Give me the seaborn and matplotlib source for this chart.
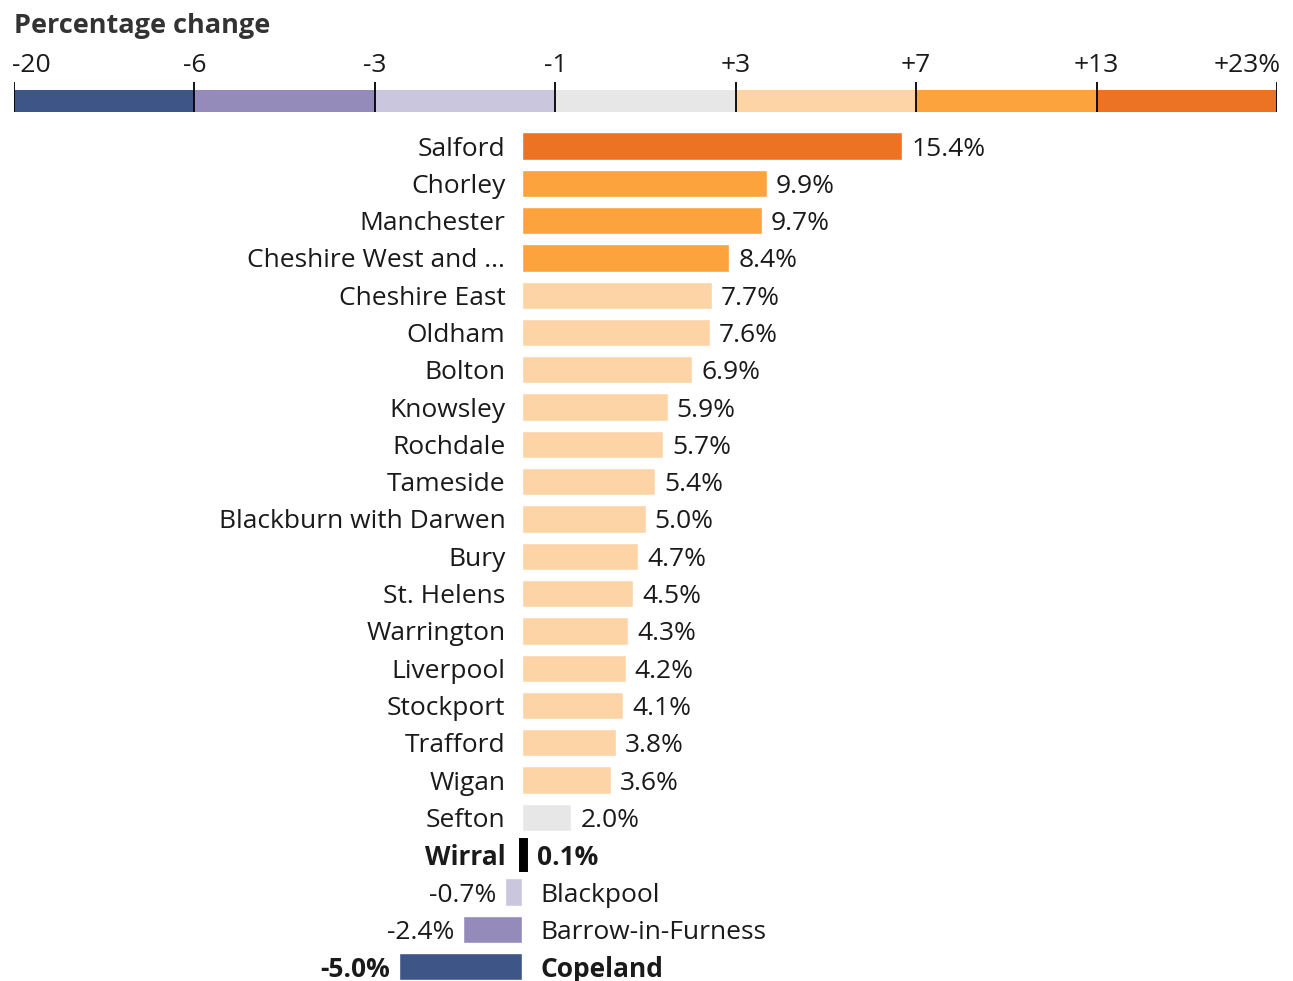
import matplotlib
matplotlib.use("Agg")
import matplotlib.pyplot as plt
import seaborn as sns
import pandas as pd

districts = ["Salford", "Chorley", "Manchester", "Cheshire West and ...", "Cheshire East",
             "Oldham", "Bolton", "Knowsley", "Rochdale", "Tameside", "Blackburn with Darwen",
             "Bury", "St. Helens", "Warrington", "Liverpool", "Stockport", "Trafford", "Wigan",
             "Sefton", "Wirral", "Blackpool", "Barrow-in-Furness", "Copeland"]
values = [15.4, 9.9, 9.7, 8.4, 7.7, 7.6, 6.9, 5.9, 5.7, 5.4, 5.0, 4.7, 4.5, 4.3, 4.2, 4.1,
          3.8, 3.6, 2.0, 0.1, -0.7, -2.4, -5.0]
highlight = ["Wirral", "Copeland"]

legend_edges = ["-20", "-6", "-3", "-1", "+3", "+7", "+13", "+23%"]
legend_colors = ["#3e5588", "#958bbb", "#cac6de", "#e7e7e7", "#fdd4a6", "#fda33e", "#ec7323"]

# colour class (index into legend_colors) as shown in the chart
bar_class = [6, 5, 5, 5, 4, 4, 4, 4, 4, 4, 4, 4, 4, 4, 4, 4, 4, 4, 3, -1, 2, 1, 0]

sns.set_theme(style="white")
plt.rcParams["font.family"] = ["Open Sans", "DejaVu Sans"]

W, H = 1293, 981
fig = plt.figure(figsize=(W / 100, H / 100), dpi=100)

df = pd.DataFrame({"district": districts, "value": values})
palette = {d: ("black" if c < 0 else legend_colors[c]) for d, c in zip(districts, bar_class)}

# main axes
top_px = 127
ax = fig.add_axes([0, 0, 1, (H - top_px) / H])
sns.barplot(data=df, x="value", y="district", hue="district", palette=palette,
            order=districts, hue_order=districts, orient="h", width=0.73,
            saturation=1, legend=False, ax=ax)
px_per_unit = 24.7
zero_px = 522
ax.set_xlim(-zero_px / px_per_unit, (W - zero_px) / px_per_unit)
row_h = 37.3
first_center = 146
ax.set_ylim((H - first_center) / row_h, (top_px - first_center) / row_h)
ax.set_axis_off()

fs = 19
txt_color = "#1a1a1a"
for p in ax.patches:
    yc = p.get_y() + p.get_height() / 2
    idx = int(round(yc))
    if 0 <= idx < len(districts) and districts[idx] == "Wirral":
        p.set_edgecolor("black")
        p.set_linewidth(5)

for i, (name, v) in enumerate(zip(districts, values)):
    weight = "bold" if name in highlight else "normal"
    label = f"{v:.1f}%"
    if v >= 0:
        ax.annotate(name, (0, i), xytext=(-12, 0), textcoords="offset points",
                    ha="right", va="center_baseline", fontsize=fs, fontweight=weight, color=txt_color)
        off = 9 if name == "Wirral" else 6.5
        ax.annotate(label, (v, i), xytext=(off, 0), textcoords="offset points",
                    ha="left", va="center_baseline", fontsize=fs, fontweight=weight, color=txt_color)
    else:
        ax.annotate(label, (v, i), xytext=(-6, 0), textcoords="offset points",
                    ha="right", va="center_baseline", fontsize=fs, fontweight=weight, color=txt_color)
        ax.annotate(name, (0, i), xytext=(13, 0), textcoords="offset points",
                    ha="left", va="center_baseline", fontsize=fs, fontweight=weight, color=txt_color)

# legend axes
lx0, lx1 = 14, 1277
ly_top, ly_bot = 82, 112
lax = fig.add_axes([lx0 / W, (H - ly_bot) / H, (lx1 - lx0) / W, (ly_bot - ly_top) / H])
n = len(legend_colors)
lax.set_xlim(0, n)
lax.set_ylim(0, 1)
band_h = 22 / 30
for i, c in enumerate(legend_colors):
    lax.bar(i, band_h, width=1, align="edge", bottom=0, color=c, linewidth=0)
lax.vlines(range(n + 1), 0, 1, color="black", linewidth=1.3)
for i, t in enumerate(legend_edges):
    ha = "left" if i == 0 else ("right" if i == n else "center")
    xo = -0.01 if i == 0 else (0.02 if i == n else 0)
    lax.text(i + xo, (112 - 63) / 30, t, ha=ha, va="center_baseline", fontsize=fs, color=txt_color,
             transform=lax.transData, clip_on=False)
lax.set_axis_off()

fig.text(14 / W, 1 - 23 / H, "Percentage change", ha="left", va="center_baseline",
         fontsize=19.5, fontweight="bold", color="#333333")

fig.savefig("out.png", dpi=100)
